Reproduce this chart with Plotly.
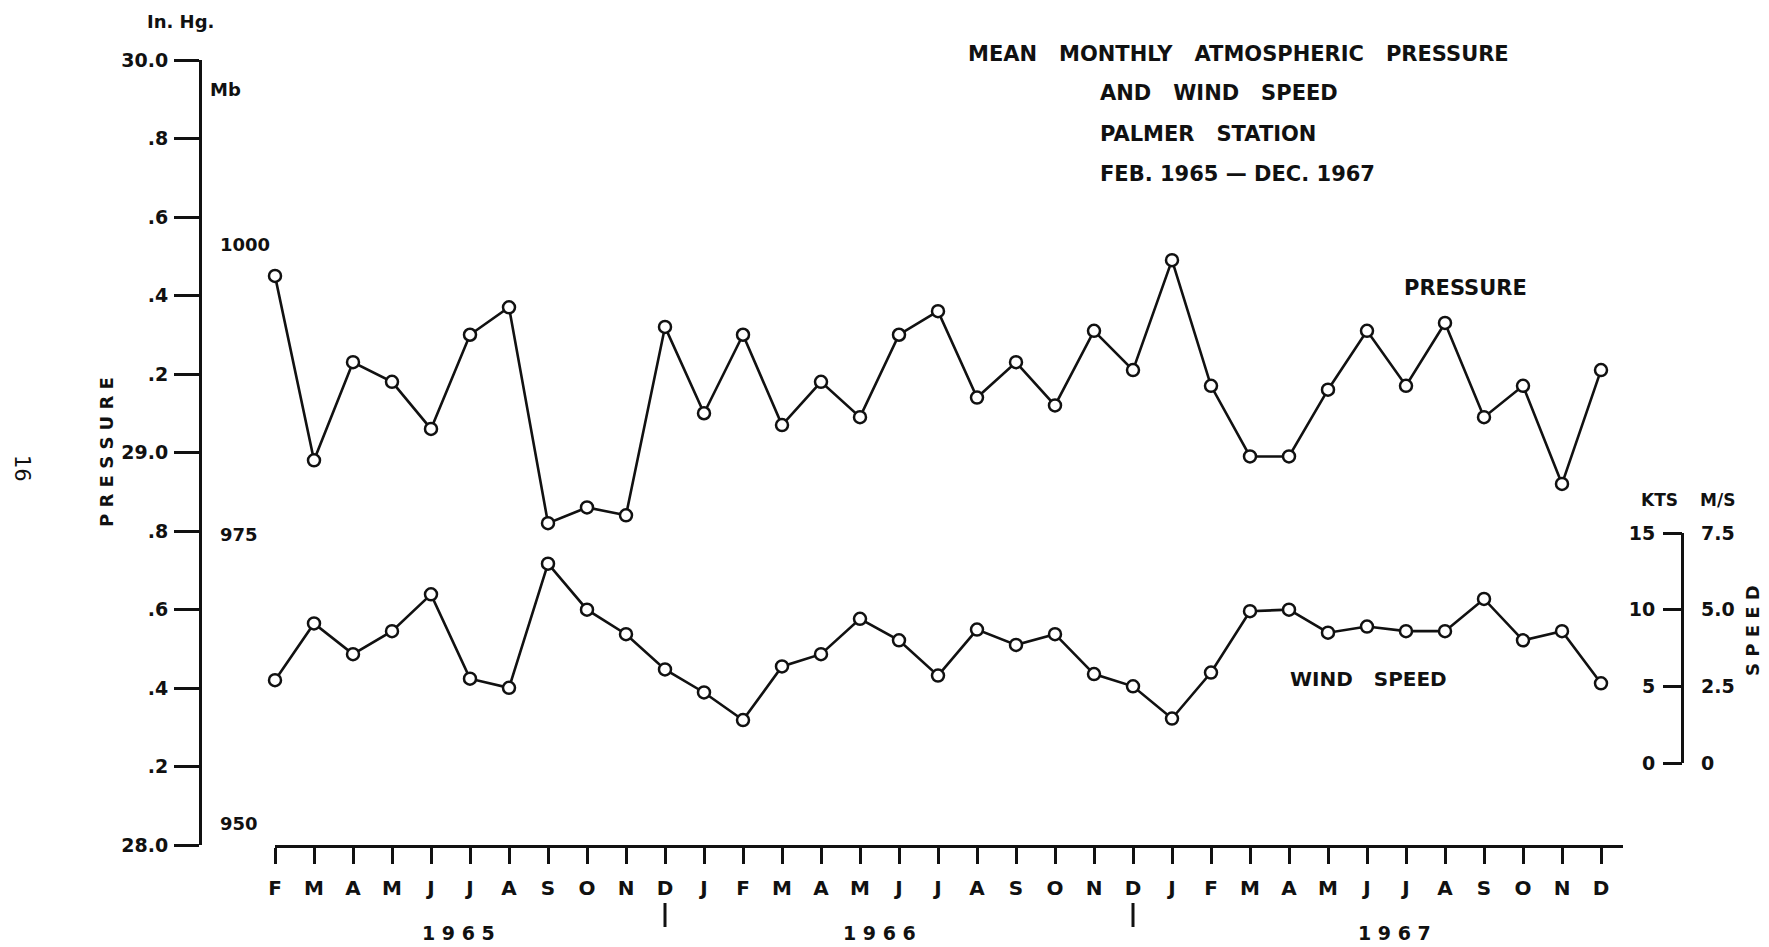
import plotly.graph_objects as go

# ---------------- data ----------------
months = ["F", "M", "A", "M", "J", "J", "A", "S", "O", "N", "D",
          "J", "F", "M", "A", "M", "J", "J", "A", "S", "O", "N", "D",
          "J", "F", "M", "A", "M", "J", "J", "A", "S", "O", "N", "D"]
month_idx = list(range(len(months)))

pressure_inhg = [29.45, 28.98, 29.23, 29.18, 29.06, 29.30, 29.37, 28.82, 28.86, 28.84, 29.32,
                 29.10, 29.30, 29.07, 29.18, 29.09, 29.30, 29.36, 29.14, 29.23, 29.12, 29.31, 29.21,
                 29.49, 29.17, 28.99, 28.99, 29.16, 29.31, 29.17, 29.33, 29.09, 29.17, 28.92, 29.21]

wind_kts = [5.4, 9.1, 7.1, 8.6, 11.0, 5.5, 4.9, 13.0, 10.0, 8.4, 6.1,
            4.6, 2.8, 6.3, 7.1, 9.4, 8.0, 5.7, 8.7, 7.7, 8.4, 5.8, 5.0,
            2.9, 5.9, 9.9, 10.0, 8.5, 8.9, 8.6, 8.6, 10.7, 8.0, 8.6, 5.2]

years = ["1965", "1966", "1967"]
year_sep_idx = [10, 22]          # the two Decembers that close 1965 and 1966

p_tickvals = [28.0, 28.2, 28.4, 28.6, 28.8, 29.0, 29.2, 29.4, 29.6, 29.8, 30.0]
p_ticktext = ["28.0", ".2", ".4", ".6", ".8", "29.0", ".2", ".4", ".6", ".8", "30.0"]
mb_tickvals = [950, 975, 1000]
kts_tickvals = [0, 5, 10, 15]
ms_tickvals = [0, 2.5, 5.0, 7.5]
ms_ticktext = ["0", "2.5", "5.0", "7.5"]

MB_PER_INHG = 33.8639

# ---------------- layout geometry (pixels) ----------------
W, H = 1769, 947
L, R, T, B = 200, 1682, 60, 845          # plot area edges
PW, PH = R - L, B - T
def fx(px):
    return (px - L) / PW
def fy(py):
    return (B - py) / PH

FONT = "DejaVu Sans"
BLACK = "#111111"

x_dom = [fx(275), fx(1623)]
x_rng = [0, (1623 - 275) / 39.0]
y2_dom = [fy(763), fy(533)]
year_label_x = [4.7, 15.5, 28.7]

fig = go.Figure()

mk = dict(symbol="circle", size=12, color="white", line=dict(color=BLACK, width=2.5))

fig.add_trace(go.Scatter(
    x=month_idx, y=pressure_inhg, mode="lines+markers",
    line=dict(color=BLACK, width=2.6), marker=mk,
    xaxis="x", yaxis="y", cliponaxis=False, showlegend=False,
    name="Pressure (in. Hg)"))

fig.add_trace(go.Scatter(
    x=month_idx, y=wind_kts, mode="lines+markers",
    line=dict(color=BLACK, width=2.6), marker=mk,
    xaxis="x", yaxis="y2", cliponaxis=False, showlegend=False,
    name="Wind speed (kts)"))

# invisible carriers so the unit-scale axes are drawn
for ax, yy in (("y3", mb_tickvals[0]), ("y4", ms_tickvals[0]), ("y5", kts_tickvals[0])):
    fig.add_trace(go.Scatter(x=[month_idx[0]], y=[yy], mode="markers",
                             marker=dict(opacity=0, size=1), xaxis="x", yaxis=ax,
                             hoverinfo="skip", showlegend=False))

def f(size=19, weight="bold"):
    return dict(family=FONT, size=size, color=BLACK, weight=weight)

fig.update_layout(
    width=W, height=H,
    margin=dict(l=L, r=W - R, t=T, b=H - B, pad=0),
    paper_bgcolor="white", plot_bgcolor="white",
    font=dict(family=FONT, color=BLACK),
    hovermode=False,
    xaxis=dict(domain=x_dom, range=x_rng, anchor="y",
               tickvals=month_idx, ticktext=months,
               showline=True, linecolor=BLACK, linewidth=3,
               ticks="outside", ticklen=16, tickwidth=3, tickcolor=BLACK,
               ticklabelstandoff=7, tickfont=f(20),
               showgrid=False, zeroline=False),
    yaxis=dict(domain=[0, 1], range=[28.0, 30.0], anchor="free", position=0,
               tickvals=p_tickvals, ticktext=p_ticktext,
               showline=True, linecolor=BLACK, linewidth=3,
               ticks="outside", ticklen=25, tickwidth=3, tickcolor=BLACK,
               tickfont=f(19), ticklabelstandoff=2,
               showgrid=False, zeroline=False),
    yaxis3=dict(overlaying="y", range=[28.0 * MB_PER_INHG, 30.0 * MB_PER_INHG],
                anchor="free", position=0, side="right",
                tickvals=mb_tickvals, ticks="", ticklabelstandoff=19,
                tickfont=f(18),
                showline=False, showgrid=False, zeroline=False),
    yaxis2=dict(domain=y2_dom, range=[0, 15], anchor="free", position=1, side="right",
                tickvals=kts_tickvals, showticklabels=False, ticks="",
                showline=True, linecolor=BLACK, linewidth=3,
                showgrid=False, zeroline=False),
    yaxis5=dict(overlaying="y2", range=[0, 15], anchor="free", position=1, side="left",
                tickvals=kts_tickvals,
                ticks="outside", ticklen=19, tickwidth=3, tickcolor=BLACK,
                ticklabelstandoff=4, tickfont=f(19),
                showline=False, showgrid=False, zeroline=False),
    yaxis4=dict(overlaying="y2", range=[0, 7.5], anchor="free", position=1, side="right",
                tickvals=ms_tickvals, ticktext=ms_ticktext, ticks="",
                ticklabelstandoff=18, tickfont=f(19),
                showline=False, showgrid=False, zeroline=False),
)

ann = []
def txt(text, px, py, size=21, xanchor="center", angle=0, weight="bold"):
    ann.append(dict(text=text, xref="paper", yref="paper", x=fx(px), y=fy(py),
                    xanchor=xanchor, yanchor="middle", showarrow=False,
                    textangle=angle, font=f(size, weight)))

SP = "&nbsp;&nbsp;&nbsp;"
# title block
txt(SP.join(["MEAN", "MONTHLY", "ATMOSPHERIC", "PRESSURE"]), 1238, 54, 21)
txt(SP.join(["AND", "WIND", "SPEED"]), 1098, 93, 21, xanchor="left")
txt(SP.join(["PALMER", "STATION"]), 1098, 134, 21, xanchor="left")
txt("FEB. 1965 — DEC. 1967", 1098, 174, 21, xanchor="left")

# axis captions
txt("In. Hg.", 180, 21, 18)
txt("Mb", 208, 89, 18, xanchor="left")
txt("&nbsp;".join("PRESSURE"), 106, 452, 18, angle=-90)
txt("16", 22, 468, 21, angle=90, weight="normal")
txt("KTS", 1659, 500, 17)
txt("M/S", 1717, 500, 17)
txt("&nbsp;".join("SPEED"), 1752, 630, 18, angle=-90)

# series labels
txt("PRESSURE", 1465, 288, 21)
txt(SP.join(["WIND", "SPEED"]), 1368, 679, 20)

# year labels under the month axis
for yx, yl in zip(year_label_x, years):
    ann.append(dict(text="&nbsp;".join(yl), xref="x", yref="paper", x=yx, y=fy(933),
                    xanchor="center", yanchor="middle", showarrow=False,
                    font=f(19)))

fig.update_layout(annotations=ann)

# year separators below the December labels
for i in year_sep_idx:
    fig.add_shape(type="line", xref="x", yref="paper", x0=i, x1=i,
                  y0=fy(903), y1=fy(927), line=dict(color=BLACK, width=3))

fig.write_html("out.html", config={"displayModeBar": False},
               post_script="document.body.style.margin='0';document.body.style.overflow='hidden';")
